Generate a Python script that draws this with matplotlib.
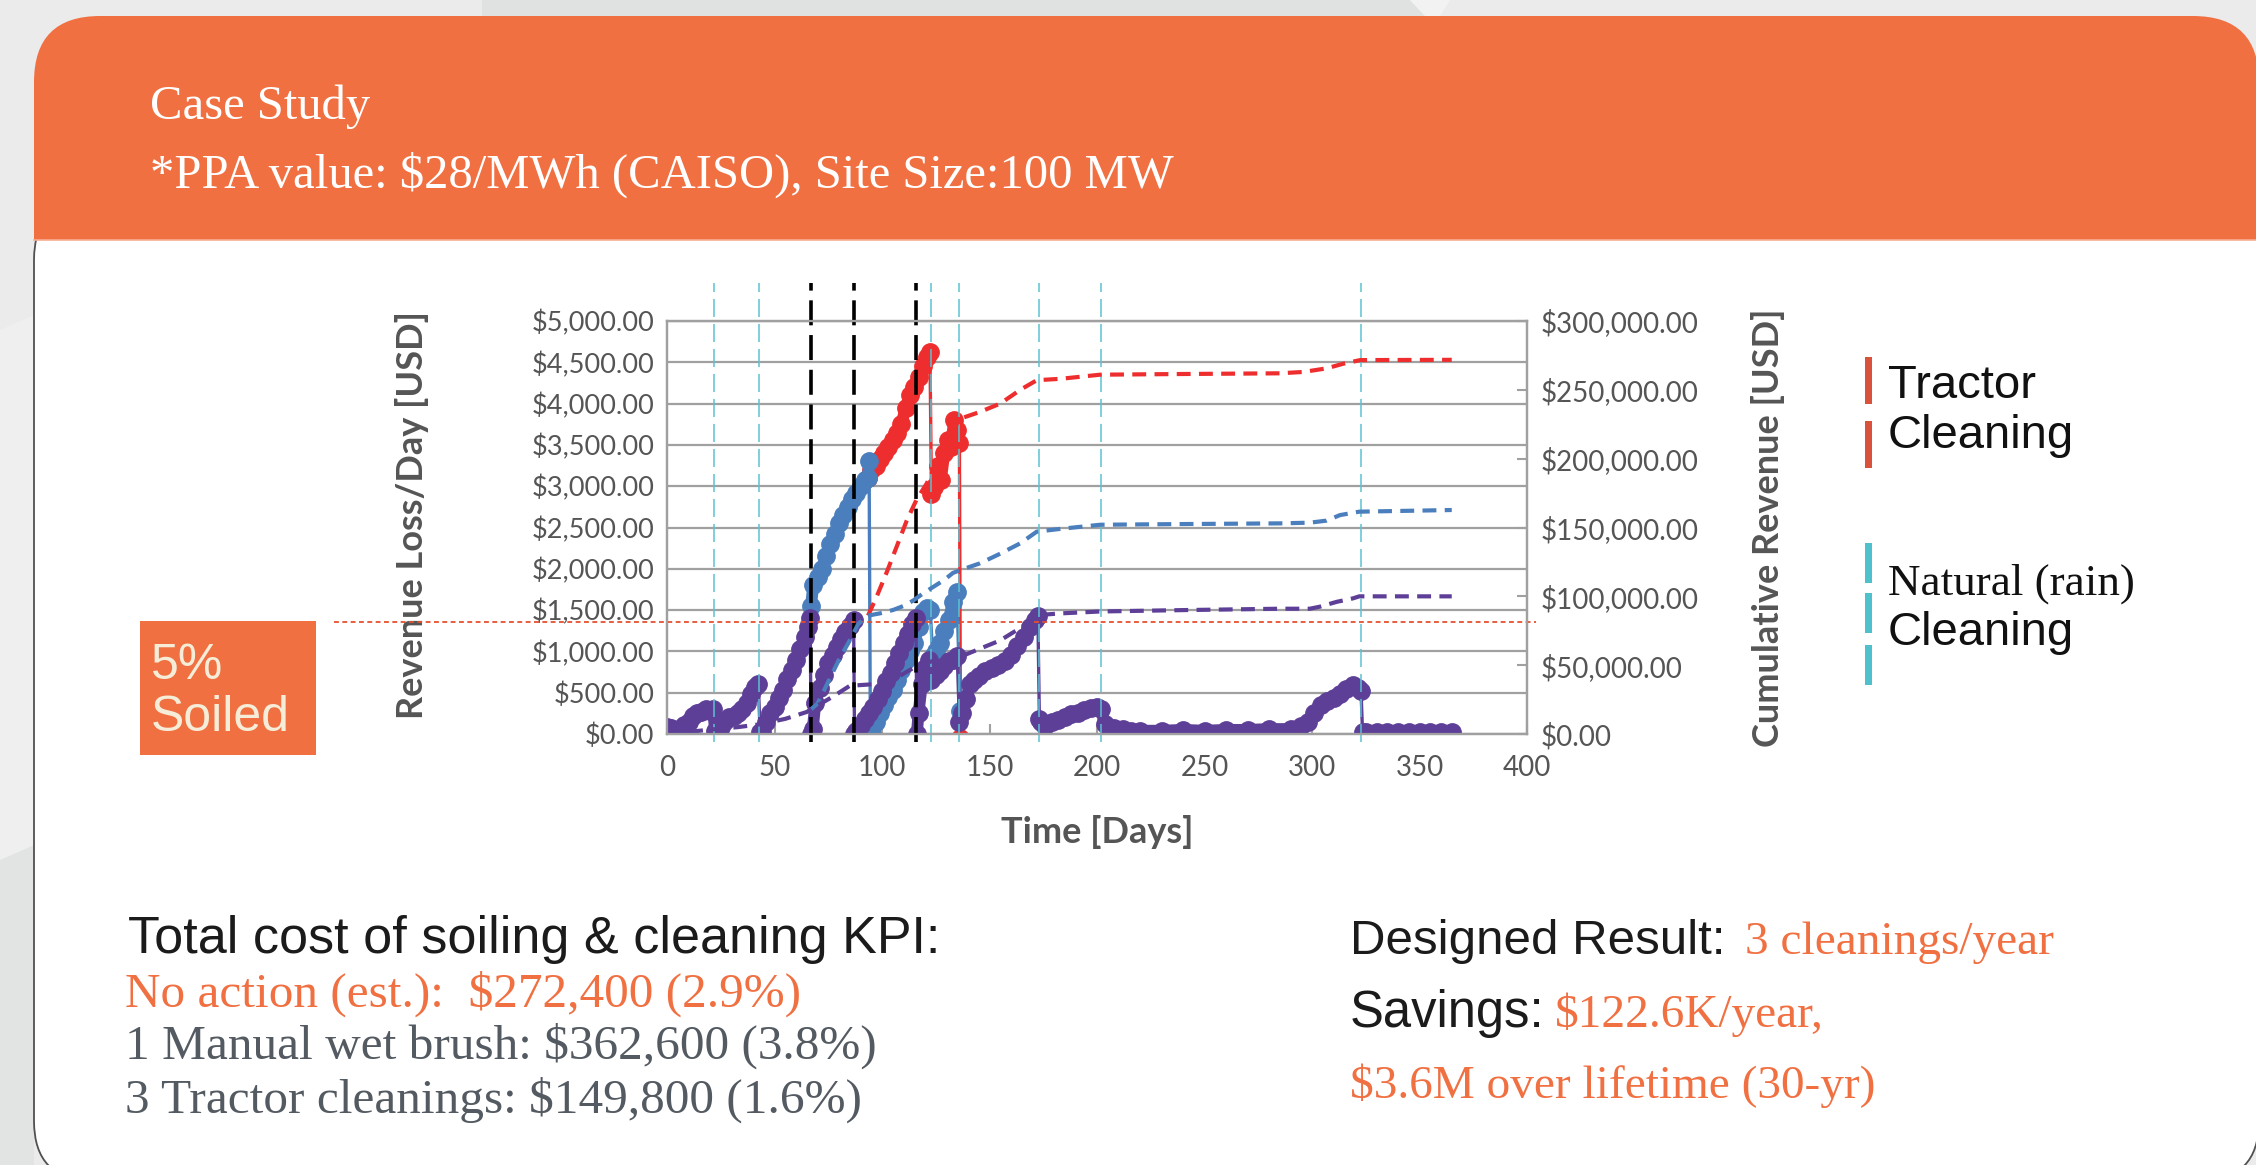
import numpy as np
import matplotlib.pyplot as plt
from matplotlib.patches import FancyBboxPatch, Rectangle, Polygon
from matplotlib.ticker import FuncFormatter, MultipleLocator

plt.rcParams['lines.scale_dashes'] = False
plt.rcParams['text.parse_math'] = False

W, H = 2256, 1165

# ---- data ----
# daily revenue loss (left axis, USD/day)
purple_day = [0, 2, 4, 6, 8, 10, 12, 14, 16, 18, 20, 21.5, 22.3,
              23, 25, 27, 29, 31, 33, 35, 37, 39, 41, 42.5, 43.3,
              44, 46, 48, 50, 52, 54, 56, 58, 60, 62, 64, 65.5, 66.6, 67,
              67.8, 69, 71, 73, 75, 77, 79, 81, 83, 85, 86.8, 87.2,
              88, 90, 92, 94, 96, 98, 100, 102, 104, 106, 108, 110, 112, 114, 115.8, 116.2,
              117, 118.5, 120, 122, 123, 125, 127, 129, 131, 133, 135, 136,
              137, 139, 141, 143, 145, 148, 151, 154, 157, 160, 163, 166, 169, 171, 172.5, 173.2,
              174, 176, 179, 182, 185, 188, 191, 194, 197, 200, 202, 203.5,
              205, 208, 212, 216, 220, 230, 240, 250, 260, 270, 280, 290, 295, 298,
              301, 304, 307, 310, 313, 316, 319, 321.5, 322.8, 323.5,
              325, 330, 335, 340, 345, 350, 355, 360, 365]
purple_loss = [90, 70, 50, 60, 110, 150, 220, 250, 270, 300, 280, 300, 40,
               30, 90, 160, 200, 220, 260, 300, 380, 480, 570, 600, 20,
               30, 150, 260, 330, 430, 530, 660, 780, 900, 1030, 1180, 1300, 1400, 0,
               60, 380, 560, 720, 860, 960, 1050, 1150, 1230, 1310, 1380, 0,
               40, 110, 180, 260, 330, 420, 520, 640, 740, 860, 980, 1100, 1210, 1330, 1400, 0,
               250, 600, 800, 900, 650, 720, 760, 820, 880, 900, 950, 150,
               250, 420, 600, 650, 700, 760, 800, 840, 880, 960, 1070, 1170, 1290, 1380, 1430, 180,
               150, 100, 140, 170, 200, 240, 260, 290, 310, 330, 300, 120,
               90, 70, 60, 40, 40, 40, 50, 40, 50, 50, 60, 60, 100, 150,
               250, 350, 400, 440, 480, 550, 590, 560, 520, 30,
               30, 20, 30, 20, 25, 20, 25, 20, 25]

blue_day = [67, 68, 70, 72, 74, 76, 78, 80, 82, 84, 86, 88, 90, 92, 93.5, 94, 94.6,
            95.5, 97, 99, 101, 103, 105, 107, 109, 111, 113, 115, 117, 119, 121, 122.5,
            123.5, 125, 127, 129, 131, 133, 134.8, 136.4]
blue_loss = [1550, 1800, 1900, 2000, 2150, 2300, 2420, 2550, 2650, 2750, 2850, 2920, 3000, 3080, 3100, 3300, -80,
             0, 150, 250, 350, 450, 530, 650, 780, 900, 1000, 1100, 1300, 1480, 1520, 1500,
             950, 1000, 1100, 1250, 1380, 1600, 1720, 280]

red_day = [93.5, 95, 97, 99, 101, 103, 105, 107, 109, 111, 113, 115, 117, 119, 121, 122.3,
           123, 124.4, 125.9, 127.4, 129, 130.5, 132, 133.6, 135, 136, 136.5]
red_loss = [3100, 3200, 3250, 3330, 3400, 3480, 3560, 3650, 3750, 3950, 4100, 4200, 4320, 4450, 4560, 4630,
            2900, 2990, 3240, 3080, 3400, 3560, 3480, 3800, 3680, 3520, -50]

# cumulative revenue loss (right axis, USD)
red_cum_day = [93.5, 97.5, 102, 106.8, 111.5, 116, 120.8, 124, 128.5, 133, 136.3, 145.6, 155, 164.3,
               172, 183, 201.5, 240, 285, 296, 306.8, 314.6, 322.4, 365]
red_cum = [86000, 99700, 116700, 136000, 155000, 170000, 182000, 192000, 204000, 221000, 229000, 234000,
           240000, 250000, 257000, 258000, 261000, 261500, 262000, 263000, 265600, 269000, 271600, 271800]

blue_cum_day = [67, 70, 75, 80, 85, 89, 93.5, 99, 105, 110, 114.6, 119, 124, 129, 133, 136.3, 145.6, 155,
                164.3, 172, 183, 201.5, 240, 285, 299, 306.8, 313, 322, 365]
blue_cum = [18000, 22000, 38000, 54000, 68000, 80000, 86000, 87600, 90000, 93000, 97000, 102000, 107000,
            112000, 117000, 119000, 124000, 131000, 138500, 147000, 149000, 152000, 152500, 153000, 153500,
            155000, 159000, 161500, 162700]

purple_cum_day = [0, 10, 22, 33, 43, 55, 65, 67, 77, 85, 99, 108, 118, 127, 136.3, 145.6, 155, 164.3, 172.7,
                  183, 201.5, 240, 285, 299, 303.7, 311.5, 319, 322, 365]
purple_cum = [0, 1500, 3500, 5000, 7000, 11000, 16000, 18000, 27000, 35000, 36500, 42000, 51000, 54000,
              56000, 62000, 68000, 77000, 86400, 87600, 89000, 90000, 91000, 91000, 92500, 96000, 98500,
              100000, 100000]

rain_days = [22, 43, 123, 136, 173, 202, 323]
tractor_days = [67, 87, 116]
soiled_level = 1350

kpi_lines = ["No action (est.):  $272,400 (2.9%)",
             "1 Manual wet brush: $362,600 (3.8%)",
             "3 Tractor cleanings: $149,800 (1.6%)"]

# ---- colours ----
ORANGE = '#F07042'
RED = '#EE2E2E'
BLUE = '#4A7EBD'
PURPLE = '#5E3F98'
CYAN = '#5BC2D2'
GRID = '#A0A0A0'
TXT = '#555555'

fig = plt.figure(figsize=(W / 100, H / 100), dpi=100)
fig.patch.set_facecolor('#EBEBEB')

bg = fig.add_axes([0, 0, 1, 1])
bg.set_xlim(0, W)
bg.set_ylim(H, 0)
bg.axis('off')

# background shapes
bg.add_patch(Polygon([[0, 860], [34, 845], [34, H], [0, H]], closed=True, fc='#E2E3E3', ec='none'))
bg.add_patch(Polygon([[0, 330], [34, 315], [34, 845], [0, 860]], closed=True, fc='#EFEFEF', ec='none'))
bg.add_patch(Polygon([[482, 0], [1410, 0], [1425, 16], [482, 16]], closed=True, fc='#E0E1E1', ec='none'))
bg.add_patch(Polygon([[1410, 0], [1450, 0], [1440, 16], [1425, 16]], closed=True, fc='#F2F2F2', ec='none'))

# card + header
bg.add_patch(FancyBboxPatch((34, 200), 2259 - 34, 1181 - 200,
                            boxstyle='round,pad=0,rounding_size=60',
                            fc='white', ec='#505050', lw=1.3))
bg.add_patch(FancyBboxPatch((34, 16), 2259 - 34, 200,
                            boxstyle='round,pad=0,rounding_size=66', fc=ORANGE, ec='none'))
bg.add_patch(Rectangle((34, 150), 2259 - 34, 90, fc=ORANGE, ec='none'))
bg.plot([34, W], [240, 240], color='#F7AE92', lw=1.2)

serif = 'Liberation Serif'
sans = 'Liberation Sans'
bg.text(150, 119, 'Case Study', family=serif, fontsize=35, color='white', va='baseline')
bg.text(150, 188, '*PPA value: $28/MWh (CAISO), Site Size:100 MW', family=serif, fontsize=35,
        color='white', va='baseline')

# 5% soiled box
bg.add_patch(Rectangle((140, 621), 176, 134, fc=ORANGE, ec='none'))
bg.text(151, 679, '5%', family=sans, fontsize=36, color='#F6EDD8', va='baseline')
bg.text(151, 731, 'Soiled', family=sans, fontsize=36, color='#F6EDD8', va='baseline')

# side legend
for y0, y1 in [(357, 404), (421, 468)]:
    bg.add_patch(Rectangle((1865, y0), 7, y1 - y0, fc='#D9533C', ec='none'))
for y0, y1 in [(543, 583), (593, 633), (645, 685)]:
    bg.add_patch(Rectangle((1865, y0), 7, y1 - y0, fc='#4FC1CD', ec='none'))
bg.text(1888, 398, 'Tractor', family=sans, fontsize=34, color='#111111', va='baseline')
bg.text(1888, 448, 'Cleaning', family=sans, fontsize=34, color='#111111', va='baseline')
bg.text(1888, 595, 'Natural (rain)', family=serif, fontsize=32.5, color='#111111', va='baseline')
bg.text(1888, 645, 'Cleaning', family=sans, fontsize=34, color='#111111', va='baseline')

# bottom text
bg.text(128, 953, 'Total cost of soiling & cleaning KPI:', family=sans, fontsize=37.5,
        color='#1B1B1B', va='baseline')
for i, (line, col) in enumerate(zip(kpi_lines, [ORANGE, '#545A61', '#545A61'])):
    bg.text(125, [1007, 1059, 1113][i], line, family=serif, fontsize=35.5, color=col, va='baseline')

bg.text(1350, 954, 'Designed Result:', family=sans, fontsize=35.5, color='#1B1B1B', va='baseline')
bg.text(1745, 954, '3 cleanings/year', family=serif, fontsize=34, color=ORANGE, va='baseline')
bg.text(1350, 1027, 'Savings:', family=sans, fontsize=36.5, color='#1B1B1B', va='baseline')
bg.text(1555, 1027, '$122.6K/year,', family=serif, fontsize=34, color=ORANGE, va='baseline')
bg.text(1350, 1098, '$3.6M over lifetime (30-yr)', family=serif, fontsize=34, color=ORANGE, va='baseline')

# ---- chart ----
ax = fig.add_axes([667 / W, 1 - 734 / H, 860 / W, 413 / H])
ax.set_xlim(0, 400)
ax.set_ylim(0, 5000)
ax2 = ax.twinx()
ax2.set_ylim(0, 300000)

cfont = 'Lato'
money = FuncFormatter(lambda v, _: f'${v:,.2f}')

ax.yaxis.set_major_locator(MultipleLocator(500))
ax.yaxis.set_major_formatter(money)
ax.xaxis.set_major_locator(MultipleLocator(50))
ax.yaxis.grid(True, color=GRID, lw=1.6)
ax.set_axisbelow(True)
ax.tick_params(axis='y', length=0, pad=9, labelsize=19.5, labelcolor=TXT)
ax.tick_params(axis='x', direction='in', length=7, width=1.5, color=GRID, pad=15,
               labelsize=20, labelcolor=TXT)
ax2.yaxis.set_major_locator(MultipleLocator(50000))
ax2.yaxis.set_major_formatter(money)
ax2.tick_params(axis='y', direction='in', length=7, width=1.5, color=GRID, pad=10,
                labelsize=20, labelcolor=TXT)
for a in (ax, ax2):
    for s in a.spines.values():
        s.set_color(GRID)
        s.set_linewidth(1.6)
    for lab in a.get_xticklabels() + a.get_yticklabels():
        lab.set_family(cfont)

ax.set_xlabel('Time [Days]', family=cfont, fontsize=26, fontweight='bold', color=TXT)
ax.xaxis.set_label_coords(0.5, -0.197)
ax.set_ylabel('Revenue Loss/Day [USD]', family=cfont, fontsize=26, fontweight='bold', color=TXT)
ax.yaxis.set_label_coords(-0.277, 0.53)
ax2.set_ylabel('Cumulative Revenue [USD]', family=cfont, fontsize=26, fontweight='bold', color=TXT)
ax2.yaxis.set_label_coords(1.26, 0.5)


def draw_daily(days, vals, color, z):
    d = np.asarray(days, float)
    v = np.asarray(vals, float)
    ax.plot(d, v, color=color, lw=2.4, zorder=z, solid_capstyle='round')
    cuts = np.where(np.abs(np.diff(v)) > 350)[0] + 1
    for sd, sv in zip(np.split(d, cuts), np.split(v, cuts)):
        ax.plot(sd, sv, color=color, lw=8.5, marker='o', ms=12.5, zorder=z,
                solid_capstyle='round', solid_joinstyle='round')


draw_daily(red_day, red_loss, RED, 3)
draw_daily(blue_day, blue_loss, BLUE, 4)
draw_daily(purple_day, purple_loss, PURPLE, 5)

for d in rain_days:
    ax.plot([d, d], [-100, 5460], color=CYAN, lw=1.1, dashes=(13, 5), clip_on=False, zorder=6)
for d in tractor_days:
    ax.plot([d, d], [-100, 5460], color='black', lw=2.6, dashes=(18, 7), clip_on=False, zorder=6)

ax.plot([-155, 404], [soiled_level, soiled_level], color='#E5502E', lw=1.3, dashes=(3.5, 2.5),
        clip_on=False, zorder=7)

ax2.plot(red_cum_day, red_cum, color=RED, lw=3, dashes=(10, 6))
ax2.plot(blue_cum_day, blue_cum, color=BLUE, lw=3, dashes=(10, 6))
ax2.plot(purple_cum_day, purple_cum, color=PURPLE, lw=3, dashes=(10, 6))

fig.savefig('out.png', dpi=100, facecolor=fig.get_facecolor())
